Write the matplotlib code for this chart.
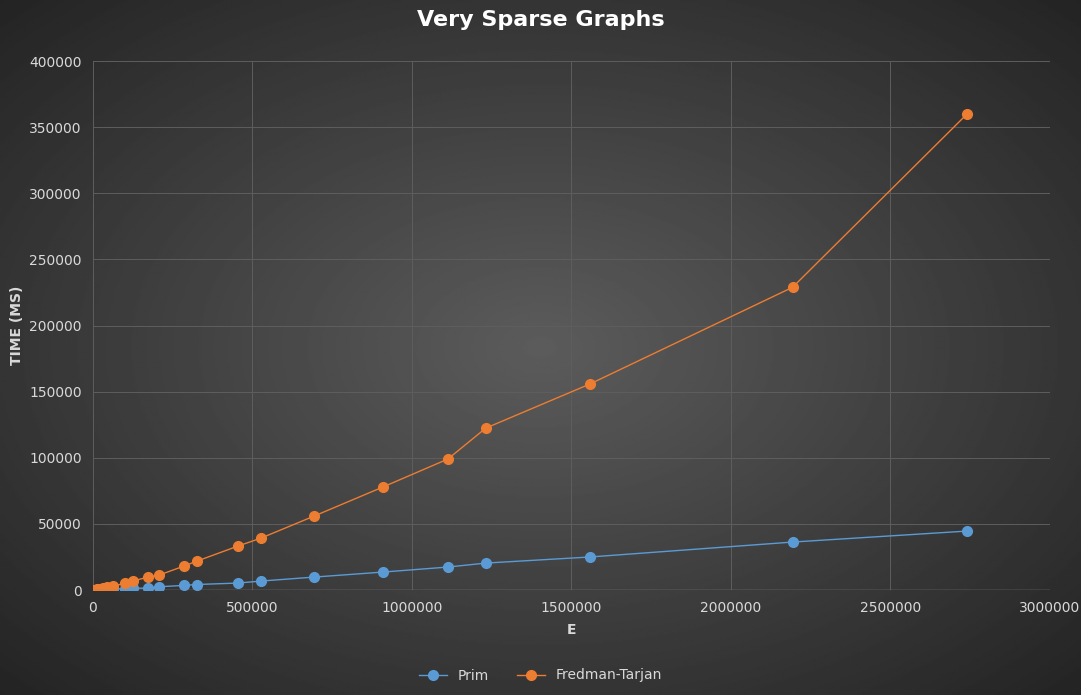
import numpy as np
import matplotlib
matplotlib.use("Agg")
from matplotlib import pyplot as plt
from matplotlib.ticker import FuncFormatter

edges = [0, 5000, 12000, 20000, 30000, 45000, 63000, 100000, 125000, 172000, 207000,
         285000, 326000, 455000, 527000, 693000, 909000, 1113000, 1232000, 1558000,
         2194000, 2740000]
prim = [0, 50, 120, 200, 300, 500, 800, 1100, 1300, 1500, 2500,
        3500, 4200, 5300, 6800, 9800, 13600, 17400, 20400, 25000, 36300, 44600]
fredman = [0, 200, 500, 900, 1300, 2000, 2800, 5300, 6800, 9800, 11300,
           18100, 21900, 33300, 39300, 55900, 77900, 99100, 122500, 155800, 229000, 359800]

fig = plt.figure(figsize=(10.81, 6.95), dpi=100)

# radial gradient background
bg = fig.add_axes([0, 0, 1, 1])
yy, xx = np.mgrid[-1:1:400j, -1:1:600j]
r = np.sqrt(xx**2 + yy**2) / np.sqrt(2)
bg.imshow(0.36 - 0.22 * r, cmap='gray', vmin=0, vmax=1, aspect='auto', extent=[0, 1, 0, 1])
bg.axis('off')

ax = fig.add_axes([0.086, 0.151, 0.885, 0.761])
ax.patch.set_alpha(0)
ax.plot(edges, prim, 'o-', color='#5b9bd5', lw=1, ms=7, label='Prim')
ax.plot(edges, fredman, 'o-', color='#ed7d31', lw=1, ms=7, label='Fredman-Tarjan')
ax.set_xlim(0, 3000000)
ax.set_ylim(0, 400000)
ax.set_xticks(np.arange(0, 3000001, 500000))
ax.set_yticks(np.arange(0, 400001, 50000))
ax.xaxis.set_major_formatter(FuncFormatter(lambda v, p: f'{v:.0f}'))
ax.grid(color='#5e5e5e', lw=0.7)
for s in ax.spines.values():
    s.set_visible(False)
ax.axhline(0, color='#8a8a8a', lw=1)
ax.tick_params(colors='#d9d9d9', labelsize=10, length=0)
ax.tick_params(axis='x', pad=8)
ax.tick_params(axis='y', pad=8)
ax.set_xlabel('E', color='#d9d9d9', fontsize=10, fontweight='bold', labelpad=6)
ax.set_ylabel('TIME (MS)', color='#d9d9d9', fontsize=10, fontweight='bold')
fig.suptitle('Very Sparse Graphs', color='white', fontsize=16, fontweight='bold', y=0.985)
leg = fig.legend(loc='lower center', ncol=2, frameon=False, bbox_to_anchor=(0.5, 0.0),
                 fontsize=10, labelcolor='#d9d9d9')
fig.savefig('out.png', dpi=100)
